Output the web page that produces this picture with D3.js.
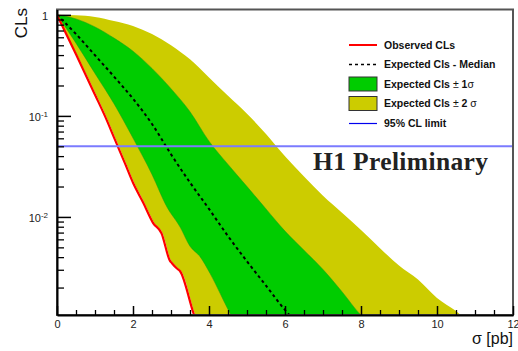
<!DOCTYPE html>
<html>
<head>
<meta charset="utf-8">
<script src="https://cdn.jsdelivr.net/npm/d3@7"></script>
<style>
  body { margin: 0; background: #fff; }
  svg { display: block; }
</style>
</head>
<body>
<div id="chart"></div>
<script>
// sigma grid used by the expected bands and the median
var gridSigma = [0, 0.5, 1, 1.5, 2, 2.5, 3, 3.5, 4, 4.5, 5, 5.5, 6, 6.5, 7, 7.5, 8, 8.5, 9, 9.5, 10, 10.5, 11];

// expected +2 sigma edge
var plus2CLs = [1, 0.989, 0.955, 0.871, 0.776, 0.646, 0.501, 0.363, 0.240, 0.158, 0.105, 0.0661, 0.0398,
  0.0251, 0.0162, 0.0110, 0.00741, 0.00490, 0.00331, 0.00240, 0.00158, 0.00117, 0.00079];
// expected +1 sigma edge
var plus1CLs = [1, 0.912, 0.759, 0.589, 0.437, 0.295, 0.186, 0.110, 0.0562, 0.0331, 0.0200, 0.0120, 0.00724,
  0.00468, 0.00302, 0.00182, 0.00107, 0.00080];
// expected median
var medianCLs = [1, 0.646, 0.398, 0.245, 0.148, 0.0832, 0.0417, 0.0219, 0.0120, 0.00646, 0.00363, 0.00209, 0.00120, 0.00076];

// expected -1 sigma edge
var minus1Sigma = [0, 0.5, 1.0, 1.5, 2.0, 2.5, 2.89, 3.24, 3.5, 3.76, 4.03, 4.55, 4.7];
var minus1CLs = [1, 0.525, 0.263, 0.132, 0.0603, 0.0263, 0.0126, 0.00794, 0.00513, 0.00407, 0.00275, 0.00112, 0.00089];

// expected -2 sigma edge
var minus2Sigma = [0, 0.52, 1.03, 1.29, 1.56, 1.83, 2.04, 2.30, 2.56, 2.78, 3.00, 3.05, 3.18, 3.27, 3.62, 3.73];
var minus2CLs = [1, 0.407, 0.162, 0.100, 0.0575, 0.0331, 0.0214, 0.0138, 0.0087, 0.0069, 0.0037, 0.0035, 0.0031, 0.0029, 0.00112, 0.00085];

// observed
var obsSigma = [0, 0.5, 1.0, 1.26, 1.53, 1.8, 2.01, 2.27, 2.53, 2.75, 2.97, 3.02, 3.15, 3.24, 3.59, 3.7];
var obsCLs = [1, 0.407, 0.162, 0.100, 0.0575, 0.0331, 0.0214, 0.0138, 0.0087, 0.0069, 0.0037, 0.0035, 0.0031, 0.0029, 0.00112, 0.00085];

var limitCL = 0.05;

var xMajor = [0, 2, 4, 6, 8, 10, 12];
var yMajor = [1, 0.1, 0.01];
var yMajorExp = [0, -1, -2];

var legendLabels = ["Observed CLs", "Expected Cls - Median", "Expected Cls \u00b1 1\u03c3", "Expected Cls \u00b1 2 \u03c3", "95% CL limit"];

var W = 518, H = 351;
var frame = {left: 57, right: 513, top: 9.5, bottom: 315};

var svg = d3.select("#chart").append("svg")
    .attr("width", W)
    .attr("height", H)
    .style("font-family", "'Liberation Sans', Arial, sans-serif");

var x = d3.scaleLinear().domain([0, 12]).range([frame.left, frame.right]);
var y = d3.scaleLog().domain([0.00107, 1.13]).range([frame.bottom, frame.top]);

svg.append("clipPath").attr("id", "clip")
  .append("rect")
    .attr("x", frame.left).attr("y", frame.top)
    .attr("width", frame.right - frame.left)
    .attr("height", frame.bottom - frame.top);

var plot = svg.append("g").attr("clip-path", "url(#clip)");

function pts(xs, ys) { return ys.map(function(v, i) { return [xs[i], v]; }); }

var line = d3.line()
  .x(function(d) { return x(d[0]); })
  .y(function(d) { return y(d[1]); })
  .curve(d3.curveMonotoneX);

// upper edge forward, lower edge back
function band(upper, lower) {
  var back = line(lower.slice().reverse());
  return line(upper) + "L" + back.slice(1) + "Z";
}

var p2 = pts(gridSigma, plus2CLs),
    p1 = pts(gridSigma, plus1CLs),
    med = pts(gridSigma, medianCLs),
    m1 = pts(minus1Sigma, minus1CLs),
    m2 = pts(minus2Sigma, minus2CLs),
    obs = pts(obsSigma, obsCLs);

plot.append("path").attr("d", band(p2, m2)).attr("fill", "#cccc00");
plot.append("path").attr("d", band(p1, m1)).attr("fill", "#00cc00")
  .attr("stroke", "#1a9a1a").attr("stroke-width", 0.5);

plot.append("path").attr("d", line(med))
  .attr("fill", "none").attr("stroke", "#000")
  .attr("stroke-width", 2).attr("stroke-dasharray", "3,3");

plot.append("path").attr("d", line(obs))
  .attr("fill", "none").attr("stroke", "#ff0000")
  .attr("stroke-width", 2.2).attr("stroke-linejoin", "round");

plot.append("line")
  .attr("x1", frame.left).attr("x2", frame.right)
  .attr("y1", y(limitCL)).attr("y2", y(limitCL))
  .attr("stroke", "#7b7bff").attr("stroke-width", 2);

// frame
svg.append("rect")
  .attr("x", frame.left).attr("y", frame.top)
  .attr("width", frame.right - frame.left)
  .attr("height", frame.bottom - frame.top)
  .attr("fill", "none").attr("stroke", "#555").attr("stroke-width", 2);

// y axis
var yMinor = [];
[0.001, 0.01, 0.1].forEach(function(dec) {
  for (var k = 2; k <= 9; k++) yMinor.push(dec * k);
});

svg.append("g")
  .attr("transform", "translate(" + frame.left + ",0)")
  .call(d3.axisLeft(y).tickValues(yMinor).tickSize(-7).tickSizeOuter(0).tickFormat(""))
  .call(function(g) { g.select(".domain").remove(); })
  .selectAll("line").attr("stroke-width", 1.3);

var yAxis = svg.append("g")
  .attr("transform", "translate(" + frame.left + ",0)")
  .call(d3.axisLeft(y).tickValues(yMajor).tickSize(-14).tickSizeOuter(0).tickPadding(9).tickFormat(""));
yAxis.select(".domain").attr("stroke-width", 2);
yAxis.selectAll(".tick line").attr("stroke-width", 1.5);
yAxis.selectAll(".tick text").each(function(d, i) {
  var t = d3.select(this).attr("font-size", 11).attr("fill", "#222").attr("dy", "0.45em")
    .attr("font-family", "'Liberation Sans', Arial, sans-serif");
  if (yMajorExp[i] === 0) {
    t.text("1");
  } else {
    t.append("tspan").text("10");
    t.append("tspan").attr("font-size", 8).attr("dy", "-0.55em").text(yMajorExp[i]);
  }
});

// x axis
var xMinor = d3.range(0, 12.01, 0.5).filter(function(v) { return v % 2 !== 0; });
svg.append("g")
  .attr("transform", "translate(0," + frame.bottom + ")")
  .call(d3.axisBottom(x).tickValues(xMinor).tickSize(-5).tickSizeOuter(0).tickFormat(""))
  .call(function(g) { g.select(".domain").remove(); })
  .selectAll("line").attr("stroke-width", 1.3);

var xAxis = svg.append("g")
  .attr("transform", "translate(0," + frame.bottom + ")")
  .call(d3.axisBottom(x).tickValues(xMajor).tickSize(-9).tickSizeOuter(0).tickPadding(5).tickFormat(d3.format("d")));
xAxis.select(".domain").attr("stroke-width", 2);
xAxis.selectAll(".tick line").attr("stroke-width", 1.5);
xAxis.selectAll(".tick text").attr("font-size", 11).attr("fill", "#222")
  .attr("font-family", "'Liberation Sans', Arial, sans-serif");

// axis titles
svg.append("text")
  .attr("transform", "translate(27,8) rotate(-90)")
  .attr("text-anchor", "end")
  .attr("font-size", 17)
  .attr("fill", "#111")
  .text("CLs");

svg.append("text")
  .attr("x", 513).attr("y", 344)
  .attr("text-anchor", "end")
  .attr("font-size", 16)
  .attr("fill", "#111")
  .text("\u03c3 [pb]");

// legend
var legend = svg.append("g").attr("transform", "translate(349,45)");
var rowH = 19.5;
legendLabels.forEach(function(lab, i) {
  var g = legend.append("g").attr("transform", "translate(0," + (i * rowH) + ")");
  if (i === 0) {
    g.append("line").attr("x1", 0).attr("x2", 28).attr("stroke", "#ff0000").attr("stroke-width", 2);
  } else if (i === 1) {
    g.append("line").attr("x1", 0).attr("x2", 28).attr("stroke", "#000")
      .attr("stroke-width", 1.5).attr("stroke-dasharray", "3,3");
  } else if (i === 2 || i === 3) {
    g.append("rect").attr("x", 0).attr("y", -7).attr("width", 28).attr("height", 14)
      .attr("fill", i === 2 ? "#00cc00" : "#cccc00")
      .attr("stroke", "#333").attr("stroke-width", 1);
  } else {
    g.append("line").attr("x1", 0).attr("x2", 28).attr("y1", 0.5).attr("y2", 0.5)
      .attr("stroke", "#0000ee").attr("stroke-width", 1.2);
  }
  var t = g.append("text").attr("x", 35).attr("dy", "0.35em")
    .attr("font-size", 10.5).attr("font-weight", "bold").attr("fill", "#111");
  lab.split(/([\u00b1\u03c3])/).forEach(function(part) {
    if (!part) return;
    var s = t.append("tspan").text(part);
    if (part === "\u00b1" || part === "\u03c3") s.attr("font-weight", "normal");
  });
});

svg.append("text")
  .attr("x", 313).attr("y", 170)
  .attr("font-family", "'Liberation Serif', 'Times New Roman', serif")
  .attr("font-weight", "bold")
  .attr("font-size", 25.5)
  .attr("textLength", 175)
  .attr("lengthAdjust", "spacing")
  .attr("fill", "#222")
  .text("H1 Preliminary");
</script>
</body>
</html>
